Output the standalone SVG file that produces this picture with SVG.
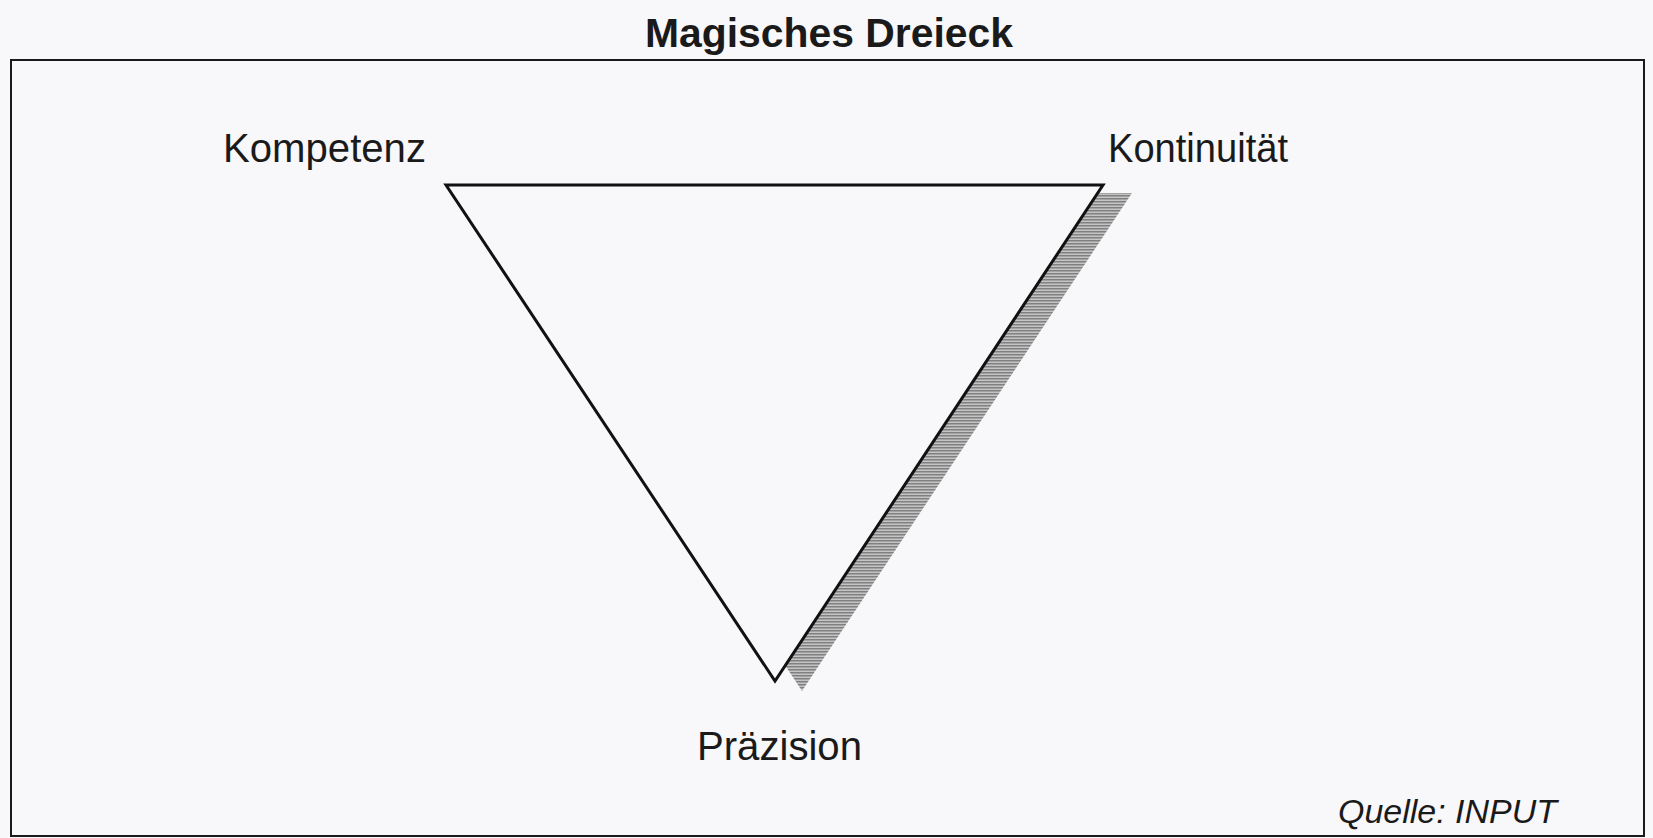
<svg xmlns="http://www.w3.org/2000/svg" width="1653" height="838" viewBox="0 0 1653 838">
<style>
.lbl{font-family:"Liberation Sans",Arial,sans-serif;font-size:40px;fill:#1a1a1a}
.title{font-weight:bold}
.src{font-style:italic;font-size:34px}
</style>
<defs>
<pattern id="hatch" width="6" height="3" patternUnits="userSpaceOnUse">
<rect width="6" height="3" fill="#c4c4c4"/>
<rect width="6" height="1.5" fill="#808080"/>
</pattern>
</defs>
<rect width="1653" height="838" fill="#f8f7f9"/>
<g id="title"><text class="lbl title" x="645" y="47" textLength="368" lengthAdjust="spacingAndGlyphs">Magisches Dreieck</text></g>
<g id="frame"><rect x="11" y="60" width="1633" height="776" fill="none" stroke="#1a1a1a" stroke-width="2"/></g>
<g id="triangle">
<polygon points="474,193 1132,193 802,691" fill="url(#hatch)"/>
<polygon points="446,185 1103,185 775,681" fill="#f8f7f9" stroke="#111" stroke-width="3" stroke-linejoin="miter"/>
</g>
<g id="kompetenz"><text class="lbl" x="223" y="162" textLength="203" lengthAdjust="spacingAndGlyphs">Kompetenz</text></g>
<g id="kontinuitaet"><text class="lbl" x="1108" y="162" textLength="180" lengthAdjust="spacingAndGlyphs">Kontinuität</text></g>
<g id="praezision"><text class="lbl" x="697" y="760" textLength="165" lengthAdjust="spacingAndGlyphs">Präzision</text></g>
<g id="quelle"><text class="lbl src" x="1338" y="823" textLength="219" lengthAdjust="spacingAndGlyphs">Quelle: INPUT</text></g>
<g id="connectors"/>
</svg>
